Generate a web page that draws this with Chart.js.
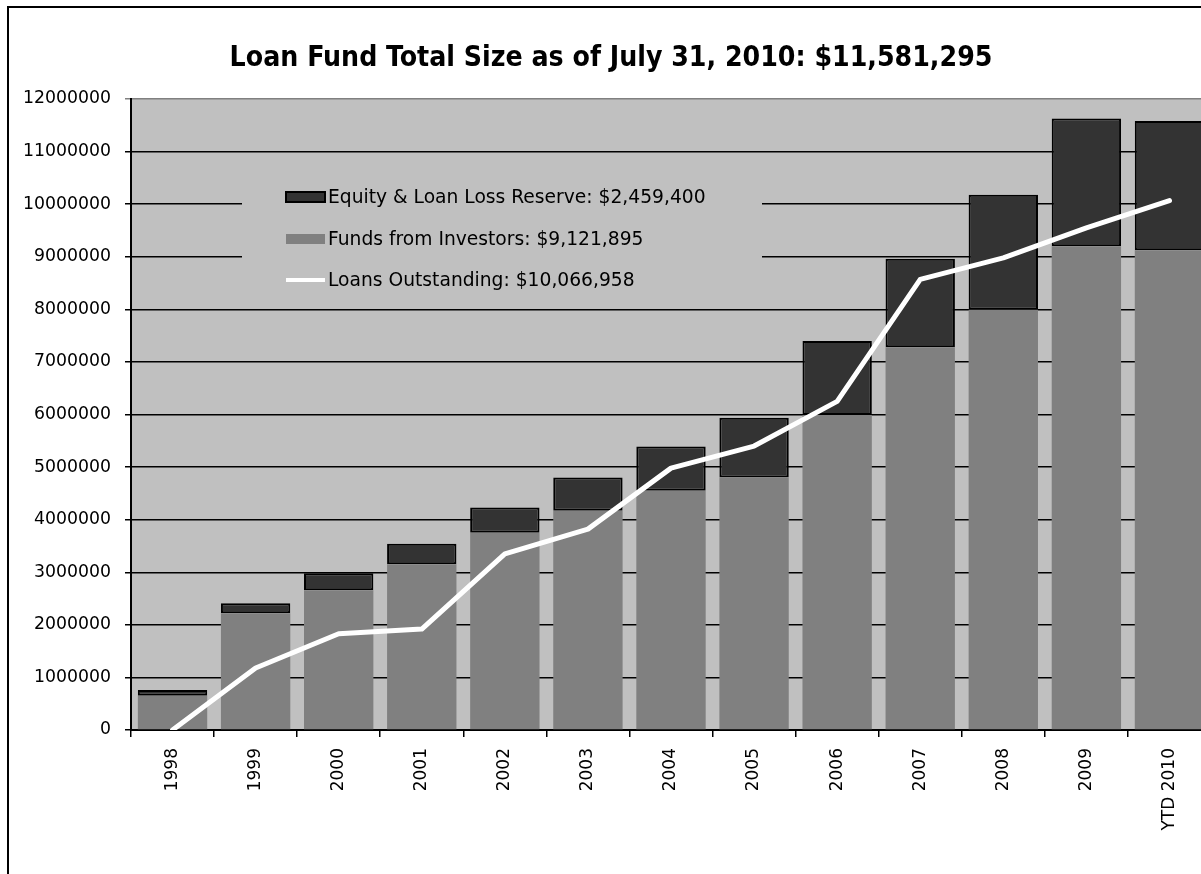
<!DOCTYPE html>
<html><head><meta charset="utf-8">
<script src="https://cdn.jsdelivr.net/npm/chart.js@4.4.1/dist/chart.umd.min.js"></script>
<style>
html,body{margin:0;padding:0;background:#fff;overflow:hidden;width:1201px;height:874px;}
#wrap{position:absolute;left:0;top:0;width:1215px;height:874px;}
#frame{position:absolute;left:7px;top:6px;width:1300px;height:1000px;border-left:2px solid #000;border-top:2px solid #000;pointer-events:none;}
</style></head><body>
<div id="wrap"><canvas id="c" width="1215" height="874"></canvas></div>
<div id="frame"></div>
<script>
const titleText = 'Loan Fund Total Size as of July 31, 2010: $11,581,295';
const categories = ['1998','1999','2000','2001','2002','2003','2004','2005','2006','2007','2008','2009','YTD 2010'];
const fundsFromInvestors = [650000, 2220000, 2660000, 3150000, 3750000, 4170000, 4550000, 4800000, 5990000, 7280000, 7990000, 9200000, 9121895];
const equityReserve = [110000, 190000, 320000, 390000, 480000, 630000, 840000, 1140000, 1410000, 1680000, 2190000, 2430000, 2459400];
const loansOutstanding = [0, 1180000, 1830000, 1920000, 3350000, 3820000, 4980000, 5400000, 6250000, 8570000, 8980000, 9550000, 10066958];
const seriesLabels = ['Equity & Loan Loss Reserve: $2,459,400', 'Funds from Investors: $9,121,895', 'Loans Outstanding: $10,066,958'];
const yTickValues = [0,1000000,2000000,3000000,4000000,5000000,6000000,7000000,8000000,9000000,10000000,11000000,12000000];

const FONT = '"DejaVu Sans", Verdana, sans-serif';

const bgPlugin = {
  id: 'plotBg',
  beforeDraw(chart) {
    const a = chart.chartArea, ctx = chart.ctx;
    ctx.save();
    ctx.fillStyle = '#C0C0C0';
    ctx.fillRect(a.left, a.top, a.right - a.left, a.bottom - a.top);
    ctx.restore();
  }
};

const titlePlugin = {
  id: 'titleDraw',
  afterDraw(chart) {
    const ctx = chart.ctx;
    ctx.save();
    const fam = '"DejaVu Sans Condensed", "Liberation Sans", Arial, sans-serif';
    ctx.font = 'bold 25px ' + fam;
    const w = ctx.measureText(titleText).width;
    const size = 25 * 763 / w;
    ctx.font = 'bold ' + size.toFixed(2) + 'px ' + fam;
    ctx.fillStyle = '#000';
    ctx.textAlign = 'center';
    ctx.textBaseline = 'middle';
    ctx.fillText(titleText, 611, 59);
    ctx.restore();
  }
};

const legendPlugin = {
  id: 'inLegend',
  afterDatasetsDraw(chart) {
    const ctx = chart.ctx;
    ctx.save();
    ctx.fillStyle = '#C0C0C0';
    ctx.fillRect(242, 172, 520, 126);
    ctx.font = '18.7px ' + FONT;
    ctx.textBaseline = 'middle';
    ctx.textAlign = 'left';
    const rows = [197, 239, 280];
    ctx.fillStyle = '#333333';
    ctx.fillRect(286, rows[0] - 5, 39, 10);
    ctx.strokeStyle = '#000';
    ctx.lineWidth = 2;
    ctx.strokeRect(286, rows[0] - 5, 39, 10);
    ctx.fillStyle = '#808080';
    ctx.fillRect(286, rows[1] - 5, 39, 10);
    ctx.strokeStyle = '#FFFFFF';
    ctx.lineWidth = 4;
    ctx.beginPath();
    ctx.moveTo(286, rows[2]);
    ctx.lineTo(325, rows[2]);
    ctx.stroke();
    ctx.fillStyle = '#000';
    for (let i = 0; i < 3; i++) ctx.fillText(seriesLabels[i], 328, rows[i] + 1);
    ctx.restore();
  }
};

new Chart(document.getElementById('c'), {
  data: {
    labels: categories,
    datasets: [
      { type: 'bar', label: seriesLabels[1], data: fundsFromInvestors, backgroundColor: '#808080', borderWidth: 0, stack: 'bars', order: 1, barPercentage: 0.835, categoryPercentage: 1 },
      { type: 'bar', label: seriesLabels[0], data: equityReserve, backgroundColor: '#333333', borderColor: '#000000', borderWidth: 2, borderSkipped: false, stack: 'bars', order: 1, barPercentage: 0.835, categoryPercentage: 1 },
      { type: 'line', label: seriesLabels[2], data: loansOutstanding, borderColor: '#FFFFFF', borderWidth: 5, pointRadius: 0, tension: 0, stack: 'line', order: 0, borderCapStyle: 'round', borderJoinStyle: 'round', fill: false }
    ]
  },
  options: {
    responsive: false,
    animation: false,
    devicePixelRatio: 1,
    layout: { padding: { top: 99, left: 0, right: 4, bottom: 0 } },
    plugins: { legend: { display: false }, title: { display: false }, tooltip: { enabled: false } },
    scales: {
      x: {
        stacked: true,
        offset: true,
        afterFit(scale) { scale.height = 144; },
        grid: { drawOnChartArea: false, drawTicks: true, tickLength: 7, color: '#000', lineWidth: 1.5, offset: true },
        border: { color: '#000', width: 2 },
        ticks: { autoSkip: false, maxRotation: 90, minRotation: 90, padding: 11, color: '#000', font: { family: FONT, size: 17 } }
      },
      y: {
        stacked: true,
        min: 0, max: 12000000,
        afterFit(scale) { scale.width = 131; },
        afterBuildTicks(scale) { scale.ticks = yTickValues.map(v => ({ value: v })); },
        grid: { color: (c) => (c.tick && c.tick.value === 12000000 ? '#808080' : '#000'), lineWidth: 1.5, tickLength: 6, drawTicks: true },
        border: { color: '#000', width: 2 },
        ticks: { padding: 14, color: '#000', font: { family: FONT, size: 17.3 }, callback: (v) => String(v) }
      }
    }
  },
  plugins: [bgPlugin, legendPlugin, titlePlugin]
});
</script>
</body></html>
